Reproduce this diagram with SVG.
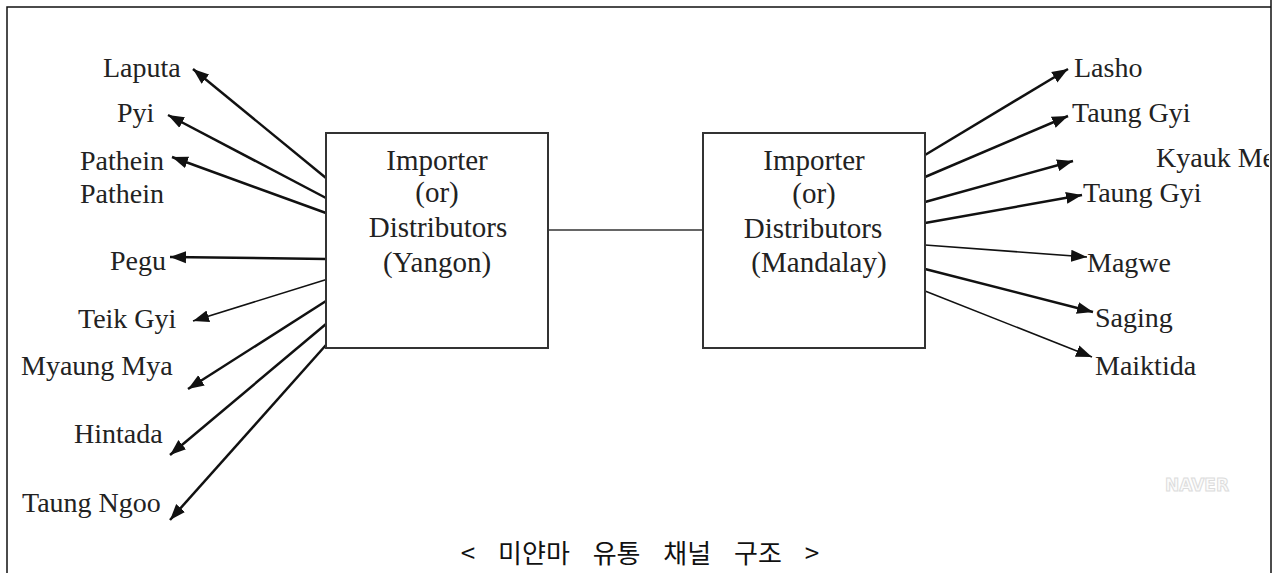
<svg xmlns="http://www.w3.org/2000/svg" width="1285" height="573" viewBox="0 0 1285 573">
<style>
.lbl{font-family:"Liberation Serif","Times New Roman",serif;font-size:28px;fill:#222}
.box{fill:#fff;stroke:#333;stroke-width:2}
.bt{font-family:"Liberation Serif","Times New Roman",serif;font-size:29px;fill:#222;text-anchor:middle}
.arr{stroke:#111;stroke-width:2.5;fill:none;marker-end:url(#ah)}
.thin{stroke-width:1.6}
.frame{stroke:#111;stroke-width:1.5;fill:none}
</style>
<defs>
<marker id="ah" markerUnits="userSpaceOnUse" markerWidth="17" markerHeight="13" refX="16" refY="6.5" orient="auto" viewBox="0 0 17 13">
<path d="M0,0.5 L16,6.5 L0,12.5 z" fill="#111"/>
</marker>
<clipPath id="clipR"><rect x="0" y="0" width="1269" height="573"/></clipPath>
</defs>
<rect width="1285" height="573" fill="#fff"/>
<g id="frame">
<path class="frame" d="M7,573 V7 H1271"/>
<path class="frame" d="M1271,0 V573"/>
</g>
<g id="connectors">
<line x1="548" y1="230" x2="703" y2="230" stroke="#333" stroke-width="1.5"/>
<line class="arr" x1="326" y1="178" x2="193" y2="69"/>
<line class="arr" x1="326" y1="198" x2="168" y2="115"/>
<line class="arr" x1="326" y1="213" x2="172" y2="157"/>
<line class="arr" x1="326" y1="259" x2="170" y2="257"/>
<line class="arr thin" x1="328" y1="279" x2="193" y2="321"/>
<line class="arr" x1="326" y1="301" x2="188" y2="389"/>
<line class="arr" x1="326" y1="324" x2="170" y2="455"/>
<line class="arr" x1="326" y1="345" x2="170" y2="520"/>
<line class="arr" x1="925" y1="155" x2="1068" y2="69"/>
<line class="arr" x1="925" y1="177" x2="1068" y2="116"/>
<line class="arr" x1="925" y1="202" x2="1073" y2="161"/>
<line class="arr" x1="925" y1="223" x2="1082" y2="195"/>
<line class="arr thin" x1="925" y1="245" x2="1087" y2="257"/>
<line class="arr" x1="925" y1="269" x2="1093" y2="312"/>
<line class="arr thin" x1="925" y1="291" x2="1092" y2="357"/>
</g>
<g id="yangon">
<rect class="box" x="326" y="133" width="222" height="215"/>
<text class="bt" x="437" y="170">Importer</text>
<text class="bt" x="437" y="202">(or)</text>
<text class="bt" x="438" y="237">Distributors</text>
<text class="bt" x="437" y="272">(Yangon)</text>
</g>
<g id="mandalay">
<rect class="box" x="703" y="133" width="222" height="215"/>
<text class="bt" x="814" y="170">Importer</text>
<text class="bt" x="814" y="203">(or)</text>
<text class="bt" x="813" y="238">Distributors</text>
<text class="bt" x="819" y="272">(Mandalay)</text>
</g>
<g id="left-labels">
<text id="laputa" class="lbl" x="103" y="77">Laputa</text>
<text id="pyi" class="lbl" x="117" y="122">Pyi</text>
<text id="pathein1" class="lbl" x="80" y="170">Pathein</text>
<text id="pathein2" class="lbl" x="80" y="203">Pathein</text>
<text id="pegu" class="lbl" x="110" y="270">Pegu</text>
<text id="teikgyi" class="lbl" x="78" y="328">Teik Gyi</text>
<text id="myaungmya" class="lbl" x="21" y="375">Myaung Mya</text>
<text id="hintada" class="lbl" x="74" y="443">Hintada</text>
<text id="taungngoo" class="lbl" x="22" y="512">Taung Ngoo</text>
</g>
<g id="right-labels">
<text id="lasho" class="lbl" x="1074" y="77">Lasho</text>
<text id="taunggyi1" class="lbl" x="1072" y="122">Taung Gyi</text>
<text id="kyaukme" class="lbl" x="1156" y="167" clip-path="url(#clipR)">Kyauk Me</text>
<text id="taunggyi2" class="lbl" x="1083" y="202">Taung Gyi</text>
<text id="magwe" class="lbl" x="1087" y="272">Magwe</text>
<text id="saging" class="lbl" x="1095" y="327">Saging</text>
<text id="maiktida" class="lbl" x="1095" y="375">Maiktida</text>
</g>
<g id="watermark">
<text x="1197" y="491" text-anchor="middle" font-family="'DejaVu Sans',sans-serif" font-weight="bold" font-size="17" fill="#fbfbfb" stroke="#dcdcdc" stroke-width="1">NAVER</text>
</g>
<g id="caption">
<text x="640" y="563" text-anchor="middle" font-family="'Noto Sans CJK KR',sans-serif" font-size="26" fill="#111" word-spacing="17">&lt; 미얀마 유통 채널 구조 &gt;</text>
</g>
</svg>
